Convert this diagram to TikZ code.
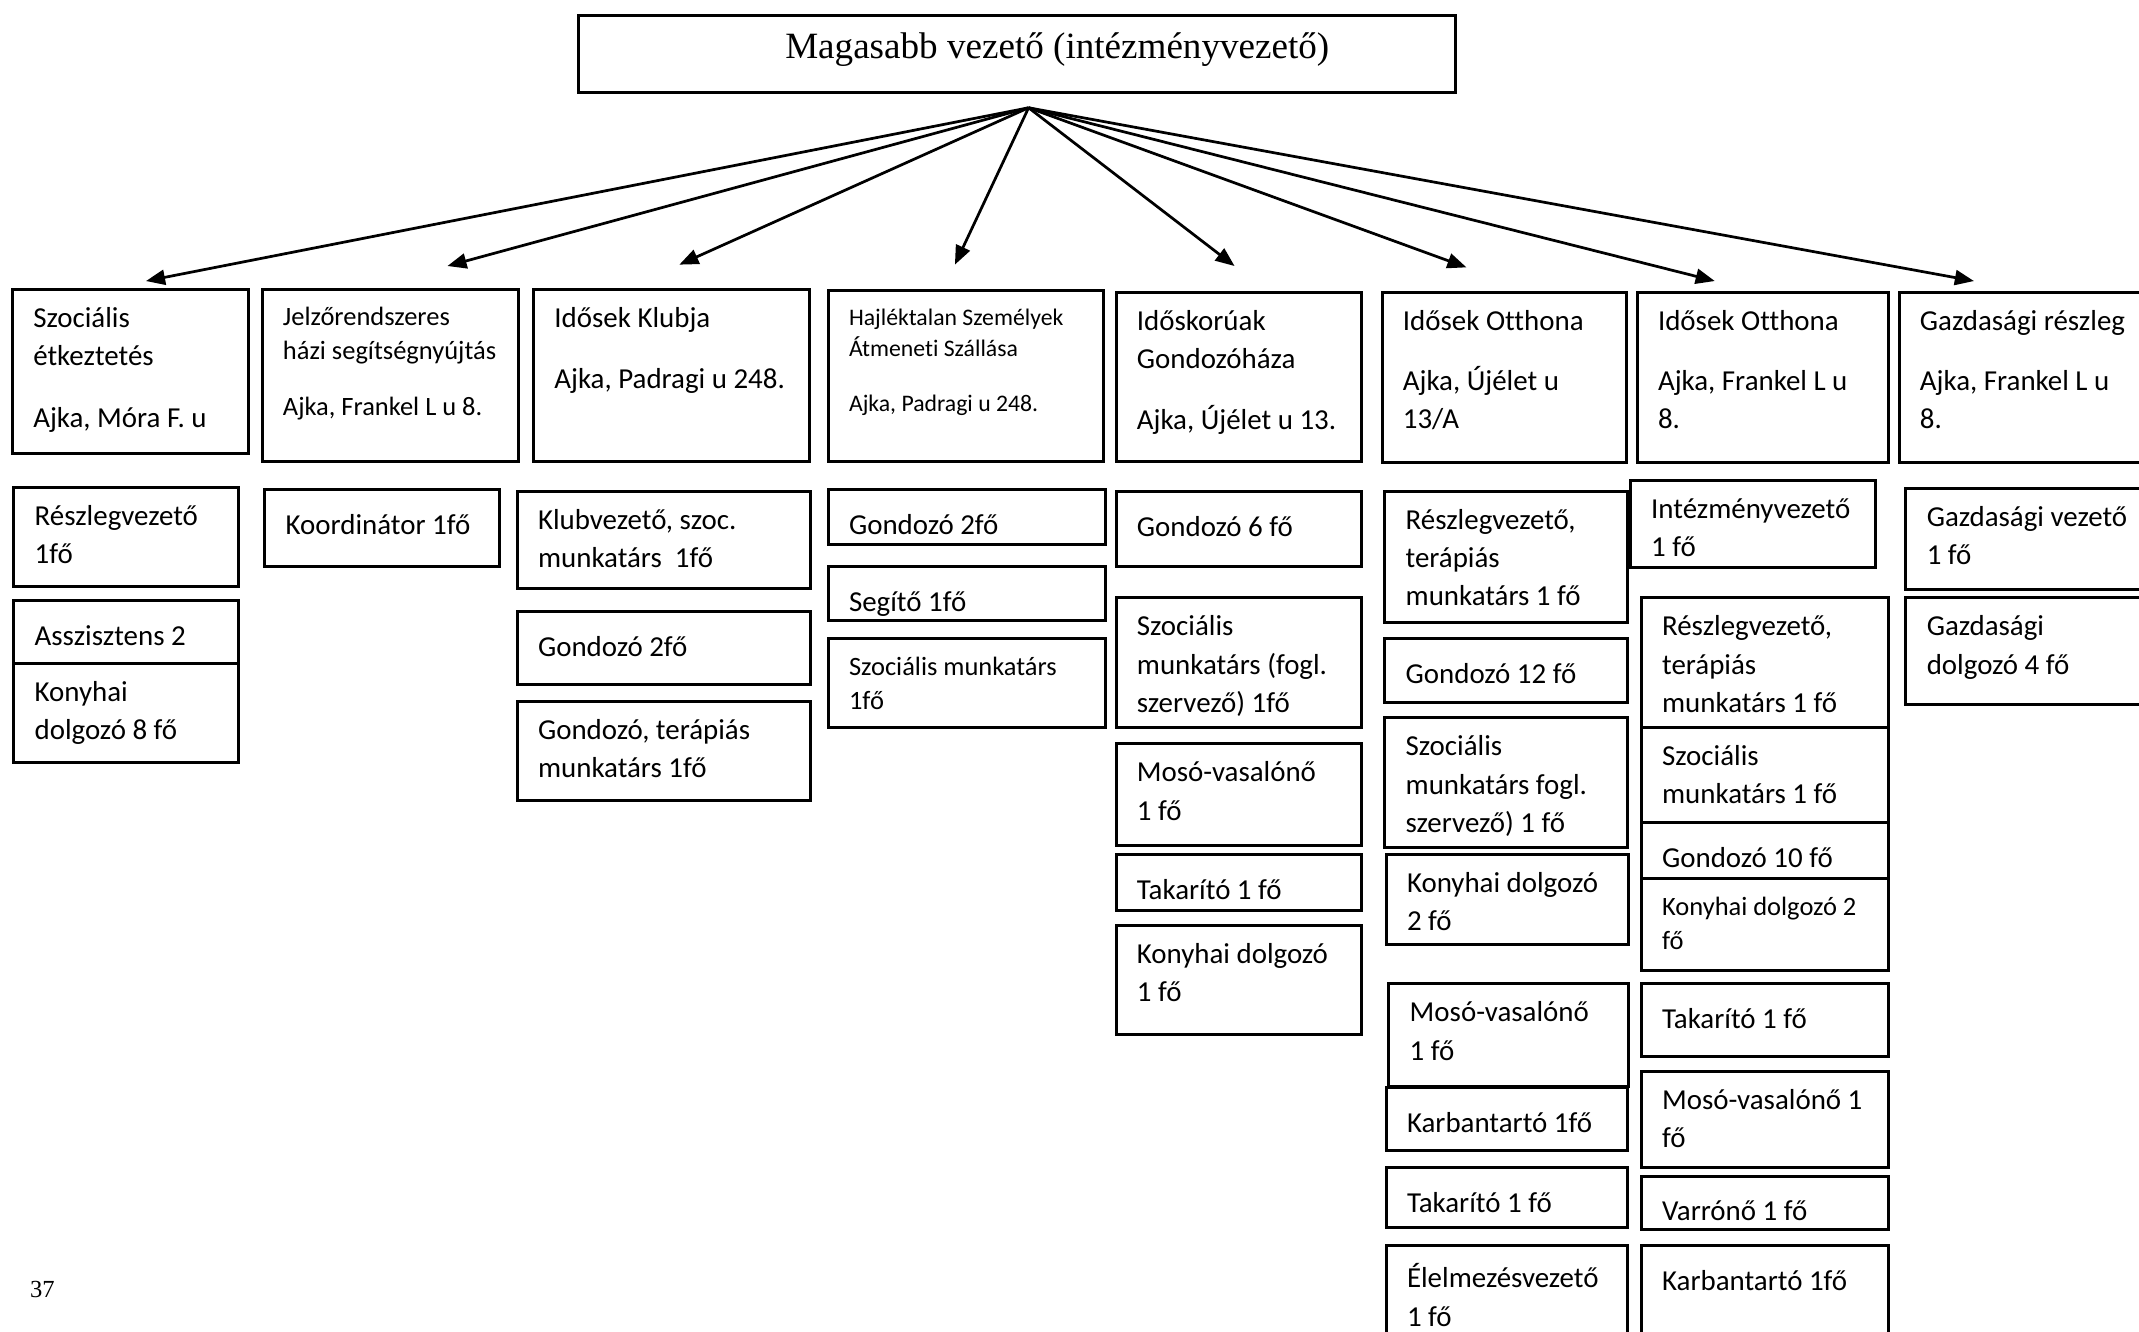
\documentclass[tikz,border=0pt]{standalone}
\usepackage{fontspec}
\setmainfont{Carlito}[Ligatures=NoCommon]
\newfontfamily\titlefont{Liberation Serif}
\usetikzlibrary{arrows.meta}

\begin{document}
\begin{tikzpicture}[x=0.5pt, y=-0.5pt,
    cell/.style={draw, line width=1.1pt, anchor=north west, inner sep=0pt},
    wh/.style 2 args={minimum width=#1*0.5pt, minimum height=#2*0.5pt},
    txt/.style={anchor=north west, align=left, inner xsep=8pt, inner ysep=7pt,
      font=\fontsize{10.6}{14}\selectfont, execute at begin node=\strut},
    mid/.style={font=\fontsize{9.7}{12.5}\selectfont},
    small/.style={font=\fontsize{8.7}{11.5}\selectfont},
    arr/.style={-{Triangle[length=7pt,width=5.5pt]}, line width=1pt}]
  \useasboundingbox (0,0) rectangle (1568,976);

  % top
  \node[cell, wh={643}{57}] (top) at (423,10) {};
  \node[anchor=base, font=\titlefont\fontsize{13.6}{16}\selectfont] (title) at (775,43) {Magasabb vezető (intézményvezető)};
  \coordinate (hub) at (754,79);

  % units
  \node[cell, wh={173}{120}] (szoc) at (8,211) {};
  \node[txt] (szoc-t) at (szoc.north west) {Szociális\\étkeztetés\\[8.5pt]Ajka, Móra F. u};
  \node[cell, wh={188}{126}] (jelzo) at (191,211) {};
  \node[txt, mid] (jelzo-t) at (jelzo.north west) {Jelzőrendszeres\\házi segítségnyújtás\\[8pt]Ajka, Frankel L u 8.};
  \node[cell, wh={202}{126}] (klub) at (390,211) {};
  \node[txt] (klub-t) at (klub.north west) {Idősek Klubja\\[8.5pt]Ajka, Padragi u 248.};
  \node[cell, wh={202}{125}] (hajl) at (606,212) {};
  \node[txt, small] (hajl-t) at (hajl.north west) {Hajléktalan Személyek\\Átmeneti Szállása\\[8.5pt]Ajka, Padragi u 248.};
  \node[cell, wh={180}{124}] (gondh) at (817,213) {};
  \node[txt] (gondh-t) at (gondh.north west) {Időskorúak\\Gondozóháza\\[8.5pt]Ajka, Újélet u 13.};
  \node[cell, wh={179}{125}] (otth1) at (1012,213) {};
  \node[txt] (otth1-t) at (otth1.north west) {Idősek Otthona\\[8pt]Ajka, Újélet u\\13/A};
  \node[cell, wh={184}{125}] (otth2) at (1199,213) {};
  \node[txt] (otth2-t) at (otth2.north west) {Idősek Otthona\\[8pt]Ajka, Frankel L u\\8.};
  \node[cell, wh={200}{125}] (gazd) at (1391,213) {};
  \node[txt] (gazd-t) at (gazd.north west) {Gazdasági részleg\\[8pt]Ajka, Frankel L u\\8.};

  \coordinate (a1) at (107,206);
  \coordinate (a2) at (328,195);
  \coordinate (a3) at (498,194);
  \coordinate (a4) at (700,194);
  \coordinate (a5) at (905,195);
  \coordinate (a6) at (1075,196);
  \coordinate (a7) at (1257,206);
  \coordinate (a8) at (1447,206);
  \foreach \dest in {a1,a2,a3,a4,a5,a6,a7,a8}
    \draw[arr] (hub) -- (\dest);

  % szocialis etkeztetes
  \node[cell, wh={165}{73}] (szoc1) at (9,356) {};
  \node[txt] (szoc1-t) at (szoc1.north west) {Részlegvezető\\1fő};
  \node[cell, wh={165}{46}] (szoc2) at (9,439) {};
  \node[txt] (szoc2-t) at (szoc2.north west) {Asszisztens 2};
  \node[cell, wh={165}{73}] (szoc3) at (9,485) {};
  \node[txt] (szoc3-t) at (szoc3.north west) {Konyhai\\dolgozó 8 fő};

  % jelzorendszer
  \node[cell, wh={172}{56}] (jelzo1) at (193,358) {};
  \node[txt] (jelzo1-t) at (jelzo1.north west) {Koordinátor 1fő};

  % klub
  \node[cell, wh={215}{71}] (klub1) at (378,359) {};
  \node[txt] (klub1-t) at (klub1.north west) {Klubvezető, szoc.\\munkatárs\ \ 1fő};
  \node[cell, wh={215}{54}] (klub2) at (378,447) {};
  \node[txt] (klub2-t) at (klub2.north west) {Gondozó 2fő};
  \node[cell, wh={215}{73}] (klub3) at (378,513) {};
  \node[txt] (klub3-t) at (klub3.north west) {Gondozó, terápiás\\munkatárs 1fő};

  % hajlektalan
  \node[cell, wh={203}{40}] (hajl1) at (606,358) {};
  \node[txt] (hajl1-t) at (hajl1.north west) {Gondozó 2fő};
  \node[cell, wh={203}{40}] (hajl2) at (606,414) {};
  \node[txt] (hajl2-t) at (hajl2.north west) {Segítő 1fő};
  \node[cell, wh={203}{65}] (hajl3) at (606,467) {};
  \node[txt, mid] (hajl3-t) at (hajl3.north west) {Szociális munkatárs\\1fő};

  % gondozohaz
  \node[cell, wh={180}{55}] (gondh1) at (817,359) {};
  \node[txt] (gondh1-t) at (gondh1.north west) {Gondozó 6 fő};
  \node[cell, wh={180}{95}] (gondh2) at (817,437) {};
  \node[txt] (gondh2-t) at (gondh2.north west) {Szociális\\munkatárs (fogl.\\szervező) 1fő};
  \node[cell, wh={180}{75}] (gondh3) at (817,544) {};
  \node[txt] (gondh3-t) at (gondh3.north west) {Mosó-vasalónő\\1 fő};
  \node[cell, wh={180}{41}] (gondh4) at (817,625) {};
  \node[txt] (gondh4-t) at (gondh4.north west) {Takarító 1 fő};
  \node[cell, wh={180}{80}] (gondh5) at (817,677) {};
  \node[txt] (gondh5-t) at (gondh5.north west) {Konyhai dolgozó\\1 fő};

  % idosek otthona, Ujelet u
  \node[cell, wh={178}{96}] (otth11) at (1014,359) {};
  \node[txt] (otth11-t) at (otth11.north west) {Részlegvezető,\\terápiás\\munkatárs 1 fő};
  \node[cell, wh={178}{47}] (otth12) at (1014,467) {};
  \node[txt] (otth12-t) at (otth12.north west) {Gondozó 12 fő};
  \node[cell, wh={178}{95}] (otth13) at (1014,525) {};
  \node[txt] (otth13-t) at (otth13.north west) {Szociális\\munkatárs fogl.\\szervező) 1 fő};
  \node[cell, wh={178}{66}] (otth14) at (1015,625) {};
  \node[txt] (otth14-t) at (otth14.north west) {Konyhai dolgozó\\2 fő};
  \node[cell, wh={176}{75}] (otth15) at (1017,720) {};
  \node[txt] (otth15-t) at (otth15.north west) {Mosó-vasalónő\\1 fő};
  \node[cell, wh={177}{46}] (otth16) at (1015,796) {};
  \node[txt] (otth16-t) at (otth16.north west) {Karbantartó 1fő};
  \node[cell, wh={177}{44}] (otth17) at (1015,855) {};
  \node[txt] (otth17-t) at (otth17.north west) {Takarító 1 fő};
  \node[cell, wh={177}{80}] (otth18) at (1015,912) {};
  \node[txt] (otth18-t) at (otth18.north west) {Élelmezésvezető\\1 fő};

  % idosek otthona, Frankel L u
  \node[cell, wh={180}{64}] (otth21) at (1194,351) {};
  \node[txt] (otth21-t) at (otth21.north west) {Intézményvezető\\1 fő};
  \node[cell, wh={181}{95}] (otth22) at (1202,437) {};
  \node[txt] (otth22-t) at (otth22.north west) {Részlegvezető,\\terápiás\\munkatárs 1 fő};
  \node[cell, wh={181}{70}] (otth23) at (1202,532) {};
  \node[txt] (otth23-t) at (otth23.north west) {Szociális\\munkatárs 1 fő};
  \node[cell, wh={181}{41}] (otth24) at (1202,602) {};
  \node[txt] (otth24-t) at (otth24.north west) {Gondozó 10 fő};
  \node[cell, wh={181}{67}] (otth25) at (1202,643) {};
  \node[txt, mid] (otth25-t) at (otth25.north west) {Konyhai dolgozó 2\\fő};
  \node[cell, wh={181}{53}] (otth26) at (1202,720) {};
  \node[txt] (otth26-t) at (otth26.north west) {Takarító 1 fő};
  \node[cell, wh={181}{71}] (otth27) at (1202,784) {};
  \node[txt] (otth27-t) at (otth27.north west) {Mosó-vasalónő 1\\fő};
  \node[cell, wh={181}{39}] (otth28) at (1202,861) {};
  \node[txt] (otth28-t) at (otth28.north west) {Varrónő 1 fő};
  \node[cell, wh={181}{80}] (otth29) at (1202,912) {};
  \node[txt] (otth29-t) at (otth29.north west) {Karbantartó 1fő};

  % gazdasagi
  \node[cell, wh={190}{74}] (gazd1) at (1396,357) {};
  \node[txt] (gazd1-t) at (gazd1.north west) {Gazdasági vezető\\1 fő};
  \node[cell, wh={190}{78}] (gazd2) at (1396,437) {};
  \node[txt] (gazd2-t) at (gazd2.north west) {Gazdasági\\dolgozó 4 fő};

  \node[anchor=base west, font=\titlefont\fontsize{9}{11}\selectfont] (pnum) at (15,951) {37};
\end{tikzpicture}
\end{document}
